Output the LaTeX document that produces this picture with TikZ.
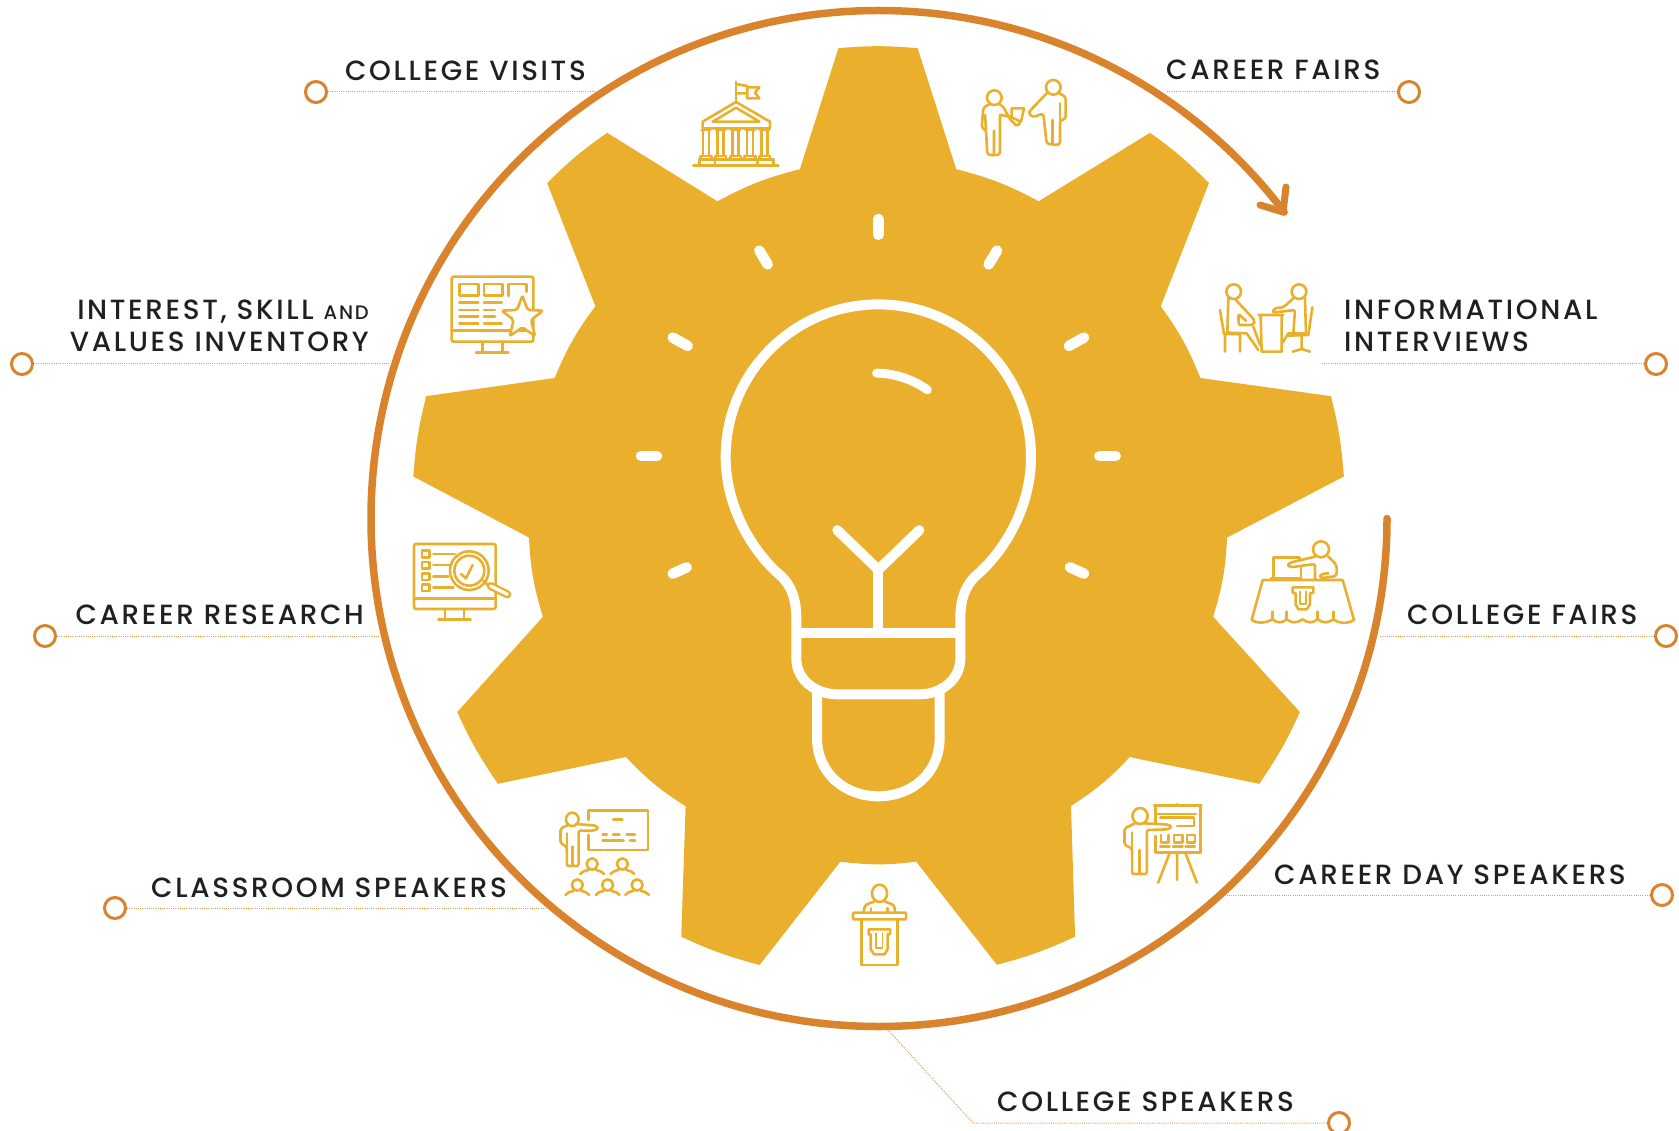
\documentclass[tikz,border=0pt]{standalone}
\usepackage{fontspec}
\setmainfont[LetterSpace=9.5]{Poppins Medium}
\definecolor{gold}{HTML}{EAB02D}
\definecolor{ora}{HTML}{DA832D}
\definecolor{ink}{HTML}{231F20}
\tikzset{
  lab/.style={font=\fontsize{27.8}{32}\selectfont,text=ink,inner sep=0pt,text depth=0pt},
  dotc/.style={circle,draw=ora,line width=3pt,fill=white,minimum size=21pt,inner sep=0pt},
  lead/.style={draw=ora!80!white,line width=1pt,dash pattern=on 1pt off 1.2pt},
  icon/.style={draw=gold,line width=2.6pt,line cap=round,line join=round},
  bulb/.style={draw=white,line width=10pt,line join=round},
  ray/.style={draw=white,line width=10.5pt,line cap=round}
}
\begin{document}
\begin{tikzpicture}[x=1pt,y=-1pt]
\useasboundingbox (0,0) rectangle (1679,1131);
\fill[white] (0,0) rectangle (1679,1131);
% gear
\begin{scope}[x=1.07079pt,y=-1.07079pt]
\fill[gold] (783,45) to[bend left=4.9] (857,45) -- (893,158) to[bend left=7] (970,188)
 -- (1074,124) to[bend left=4.9] (1129,171) -- (1084,286) to[bend left=7] (1121,353)
 -- (1243,370) to[bend left=4.9] (1255,445) -- (1146,502) to[bend left=7] (1133,576)
 -- (1214,665) to[bend left=4.9] (1176,732) -- (1055,707) to[bend left=7] (1000.2,752.7)
 -- (1004,874.8) to[bend left=4.9] (931,901) -- (855.6,804.7) to[bend left=7] (784.8,804.7)
 -- (709.4,901.2) to[bend left=4.9] (636.2,874.8) -- (640.3,753) to[bend left=7] (584.6,707)
 -- (465,732) to[bend left=4.9] (427,665) -- (507,576) to[bend left=7] (494,502)
 -- (386,445) to[bend left=4.9] (398,370) -- (518,353) to[bend left=7] (556,286)
 -- (511,171) to[bend left=4.9] (567,124) -- (670,188) to[bend left=7] (747,158) -- cycle;
\end{scope}
% arrow ring
\begin{scope}[shift={(879,518.5)},x=1pt,y=1pt]
\draw[ora,line width=7.5pt,line cap=round] (0:508pt) arc[start angle=0,end angle=-322.9,radius=508pt];
\end{scope}
\coordinate (tip) at (1283,212);
\coordinate (bA) at (1260,205);
\coordinate (bB) at (1286,187);
\draw[ora,line width=7pt,line cap=round,line join=round] (bA) -- (tip) -- (bB);
% connectors and labels
\coordinate (e1) at (595,92);
\coordinate (e2) at (1166,92);
\coordinate (e3) at (390,364);
\coordinate (e4) at (1322,364);
\coordinate (e5) at (379,636);
\coordinate (e6) at (1379,636);
\coordinate (e7) at (546,908);
\coordinate (e8) at (1226,895);
\coordinate (e9) at (888,1030);
\coordinate (e9b) at (973,1123);
\node[dotc] (c1) at (316,92) {};
\node[dotc] (c2) at (1409,92) {};
\node[dotc] (c3) at (22,364) {};
\node[dotc] (c4) at (1656,364) {};
\node[dotc] (c5) at (45,636) {};
\node[dotc] (c6) at (1666,636) {};
\node[dotc] (c7) at (115,908) {};
\node[dotc] (c8) at (1662,895) {};
\node[dotc] (c9) at (1339,1123) {};
\draw[lead] (c1) -- (e1);
\draw[lead] (c2) -- (e2);
\draw[lead] (c3) -- (e3);
\draw[lead] (c4) -- (e4);
\draw[lead] (c5) -- (e5);
\draw[lead] (c6) -- (e6);
\draw[lead] (c7) -- (e7);
\draw[lead] (c8) -- (e8);
\draw[lead] (c9) -- (e9b) -- (e9);
\node[lab,anchor=base east] (t1) at (586,81) {COLLEGE VISITS};
\node[lab,anchor=base west] (t2) at (1166,80) {CAREER FAIRS};
\node[lab,anchor=south east,align=right] (t3) at (369,352) {INTEREST, SKILL {\fontsize{19.5}{32}\selectfont AND}\\VALUES INVENTORY};
\node[lab,anchor=south west,align=left] (t4) at (1344,352) {INFORMATIONAL\\INTERVIEWS};
\node[lab,anchor=base east] (t5) at (364,624) {CAREER RESEARCH};
\node[lab,anchor=base west] (t6) at (1407,624) {COLLEGE FAIRS};
\node[lab,anchor=base west] (t7) at (151,897) {CLASSROOM SPEAKERS};
\node[lab,anchor=base west] (t8) at (1274,884) {CAREER DAY SPEAKERS};
\node[lab,anchor=base west] (t9) at (997,1111) {COLLEGE SPEAKERS};
% bulb
\begin{scope}[shift={(620,200)},x=.33333pt,y=-.39541pt]
\draw[bulb] (775,264) .. controls (522,264) and (317,437) .. (317,650)
  .. controls (317,775) and (395,885) .. (475,945)
  .. controls (515,973) and (529,1010) .. (529,1060) -- (529,1160)
  .. controls (529,1215) and (590,1250) .. (650,1250) -- (900,1250)
  .. controls (960,1250) and (1021,1215) .. (1021,1160) -- (1021,1060)
  .. controls (1021,1010) and (1035,973) .. (1075,945)
  .. controls (1155,885) and (1233,775) .. (1233,650)
  .. controls (1233,437) and (1028,264) .. (775,264) -- cycle;
\draw[bulb] (529,1094) -- (1021,1094);
\draw[bulb] (775,1094) -- (775,935);
\draw[bulb,line cap=round] (652,835) -- (775,935) -- (898,835);
\draw[bulb] (591,1245) -- (591,1360) .. controls (591,1450) and (675,1508) .. (775,1508)
  .. controls (875,1508) and (959,1450) .. (959,1360) -- (959,1245);
\draw[bulb,line width=9pt,line cap=round] (770,438) .. controls (820,438) and (875,452) .. (922,480);
\draw[ray] (775,48) -- (775,88);
\draw[ray] (418,128) -- (443,163);
\draw[ray] (1131,128) -- (1106,163);
\draw[ray] (158,348) -- (203,369);
\draw[ray] (1392,348) -- (1347,369);
\draw[ray] (63,648) -- (111,648);
\draw[ray] (1438,648) -- (1487,648);
\draw[ray] (158,945) -- (200,929);
\draw[ray] (1392,945) -- (1350,929);
\end{scope}
% college building and two people
\begin{scope}[shift={(660,60)},x=.33333pt,y=-.33333pt]
\draw[icon] (228,65) -- (228,125);
\draw[icon] (228,72) -- (262,78) -- (262,100) -- (228,100);
\draw[icon] (262,82) -- (298,82) -- (285,98) -- (298,115) -- (262,115) -- (262,100);
\draw[icon] (128,185) -- (228,126) -- (330,185) -- (330,205) -- (128,205) -- cycle;
\draw[icon] (158,185) -- (228,143) -- (298,185) -- cycle;
\foreach \c in {138,182,227,270,314} {
  \draw[icon] (\c-14,210) -- (\c+14,210);
  \draw[icon] (\c-9,212) -- (\c-9,285) (\c+9,212) -- (\c+9,285);
  \draw[icon] (\c-16,298) -- (\c-16,288) -- (\c+16,288) -- (\c+16,298);
}
\draw[icon] (118,316) -- (118,298) -- (340,298) -- (340,316);
\draw[icon] (165,300) -- (165,316) (292,300) -- (292,316);
\draw[icon] (100,316) -- (355,316);
% left person
\draw[icon] (1003,113) circle[radius=22];
\draw[icon,rounded corners=3pt] (990,132) -- (970,142) -- (965,205) -- (978,208) -- (982,285) -- (1020,285) -- (1020,165);
\draw[icon] (975,165) -- (978,208) (1002,212) -- (1002,282);
\draw[icon,rounded corners=3pt] (1018,132) -- (1030,140) -- (1050,178) -- (1072,200) -- (1083,185) -- (1050,170) -- (1022,165);
\draw[icon] (1055,170) -- (1055,145) -- (1092,145) -- (1083,185);
% right person
\draw[icon] (1180,82) circle[radius=22];
\draw[icon,rounded corners=3pt] (1160,100) -- (1112,150) -- (1105,160) -- (1118,172) -- (1150,160) -- (1160,252) -- (1200,255) -- (1200,180) -- (1217,178) -- (1217,110) -- (1197,100);
\draw[icon] (1178,180) -- (1178,250) (1200,130) -- (1200,180);
\end{scope}
% inventory and research monitors
\begin{scope}[shift={(400,260)},x=.33333pt,y=-.33333pt]
\draw[icon,rounded corners=2pt] (155,50) rectangle (400,245);
\draw[icon] (155,212) -- (400,212);
\draw[icon] (247,245) -- (247,275) (307,245) -- (307,275) (228,277) -- (325,277);
\draw[icon] (178,72) rectangle (235,107);
\draw[icon] (252,72) rectangle (308,107);
\draw[icon] (325,108) -- (325,72) -- (380,72) -- (380,95);
\draw[icon] (178,127) -- (235,127) (252,127) -- (305,127) (178,150) -- (235,150) (252,150) -- (285,150)
  (178,170) -- (235,170) (252,170) -- (285,170) (178,190) -- (235,190) (252,190) -- (305,190);
\draw[icon,fill=white,rounded corners=2pt] (367,107) -- (383,150) -- (429,152) -- (393,180) -- (405,228) -- (367,202) -- (329,228) -- (341,180) -- (305,152) -- (351,150) -- cycle;
\draw[icon,rounded corners=2pt] (42,852) rectangle (287,1047);
\draw[icon] (42,1015) -- (287,1015);
\draw[icon] (135,1047) -- (135,1075) (192,1047) -- (192,1075) (115,1078) -- (212,1078);
\draw[icon] (66,872) rectangle (88,892) (66,906) rectangle (88,926) (66,940) rectangle (88,960) (66,973) rectangle (88,993);
\draw[icon] (100,882) -- (165,882) (100,915) -- (150,915) (100,950) -- (145,950) (100,983) -- (160,983);
\draw[icon,fill=white] (208,932) circle[radius=58];
\draw[icon] (208,932) circle[radius=45];
\draw[icon] (183,942) -- (198,955) -- (218,915);
\draw[icon] (250,962) -- (264,976);
\draw[gold,line width=8pt,line cap=round] (272,978) -- (322,1003);
\draw[white,line width=3.2pt,line cap=round] (272,978) -- (322,1003);
\end{scope}
% interview and college fair
\begin{scope}[shift={(1200,270)},x=.33333pt,y=-.33333pt]
\draw[icon] (101,65) circle[radius=22];
\draw[icon] (85,85) -- (82,188) -- (140,190) -- (175,240);
\draw[icon,rounded corners=2pt] (108,90) -- (165,152) -- (160,165) -- (116,165) -- (115,132) -- (138,152);
\draw[icon] (160,170) -- (180,225);
\draw[icon] (60,120) -- (72,192) -- (120,192) (75,195) -- (75,245) (120,195) -- (120,245);
\draw[icon] (175,135) -- (250,135) (182,140) -- (185,245) -- (245,245) -- (245,140);
\draw[icon] (297,65) circle[radius=22];
\draw[icon,rounded corners=2pt] (280,85) -- (250,112) -- (222,115) -- (218,128) -- (285,120) -- (280,190);
\draw[icon] (315,85) -- (318,190) -- (265,190) -- (248,218);
\draw[icon] (337,112) -- (325,195) -- (262,197);
\draw[icon] (305,197) -- (305,237) (278,245) -- (305,237) -- (330,245);
% fair
\draw[icon] (363,838) circle[radius=24];
\draw[icon,rounded corners=2pt] (345,860) -- (270,878) -- (262,885) -- (270,892) -- (345,882) -- (345,928);
\draw[icon,rounded corners=3pt] (385,860) -- (410,885) -- (410,918) -- (360,925) -- (362,912) -- (385,910);
\draw[icon] (220,920) -- (220,862) -- (298,862) -- (298,872) (303,890) -- (303,920) (213,925) -- (303,925);
\draw[icon] (188,930) -- (428,930) (188,930) -- (155,1050) (428,930) -- (462,1050);
\draw[icon] (155,1050) .. controls (175,1062) and (195,1060) .. (217,1048)
  .. controls (232,1060) and (245,1060) .. (260,1048)
  .. controls (275,1060) and (290,1060) .. (308,1048)
  .. controls (322,1060) and (338,1060) .. (353,1048)
  .. controls (370,1060) and (382,1060) .. (400,1048)
  .. controls (420,1062) and (442,1062) .. (462,1050);
\draw[icon] (217,1048) -- (217,1025) (260,1048) -- (260,1025) (353,1048) -- (353,1025) (400,1048) -- (400,1025);
\draw[icon] (278,952) -- (340,952) -- (340,968) -- (330,970) -- (330,1003) -- (320,1018) -- (295,1018) -- (287,1003) -- (287,970) -- (278,968) -- cycle;
\draw[icon,line width=1.8pt] (300,965) -- (300,1003) -- (318,1003) -- (318,965);
\end{scope}
% classroom, podium, career day
\begin{scope}[shift={(550,790)},x=.42088pt,y=-.33333pt]
\draw[icon] (53,88) ellipse[x radius=15,y radius=20];
\draw[icon,rounded corners=2pt] (42,106) -- (25,115) -- (25,160) -- (40,170) -- (40,228) -- (68,228) -- (68,122) -- (105,122) -- (115,115) -- (110,107) -- (62,102);
\draw[icon] (40,130) -- (40,170) (53,170) -- (53,225);
\draw[icon] (92,90) -- (92,62) -- (233,62) -- (233,180) -- (92,180) -- (92,135);
\draw[icon] (150,88) -- (172,88) (125,133) -- (135,133) (150,133) -- (165,133) (182,133) -- (202,133) (125,152) -- (175,152) (190,152) -- (202,152);
\foreach \px/\py in {100/222,172/222,65/285,137/285,207/285} {
  \draw[icon] (\px,\py) ellipse[x radius=13,y radius=17];
  \draw[icon,rounded corners=2pt] (\px-28,\py+30) -- (\px-25,\py+24) -- (\px-8,\py+17);
  \draw[icon,rounded corners=2pt] (\px+28,\py+30) -- (\px+25,\py+24) -- (\px+8,\py+17);
}
% podium
\draw[icon] (783,310) ellipse[x radius=18,y radius=26];
\draw[icon,rounded corners=3pt] (770,335) -- (748,345) -- (745,368) (796,335) -- (818,345) -- (820,368);
\draw[icon] (763,355) -- (763,368) (802,355) -- (802,368);
\draw[icon,rounded corners=1pt] (720,368) rectangle (846,388);
\draw[icon] (740,390) -- (740,525) -- (826,525) -- (826,390);
\draw[icon] (757,418) -- (808,418) -- (808,433) -- (802,433) -- (802,478) -- (795,493) -- (770,493) -- (762,478) -- (762,433) -- (757,433) -- cycle;
\draw[icon,line width=1.8pt] (775,430) -- (775,475) -- (790,475) -- (790,430);
% career day
\draw[icon] (1402,78) ellipse[x radius=18,y radius=24];
\draw[icon,rounded corners=2pt] (1390,100) -- (1365,115) -- (1365,165) -- (1383,175) -- (1383,252) -- (1418,252) -- (1418,120) -- (1470,118) -- (1477,110) -- (1470,104) -- (1412,100);
\draw[icon] (1383,128) -- (1383,175) (1401,180) -- (1401,248);
\draw[icon] (1435,46) -- (1548,46) (1490,42) -- (1490,46);
\draw[icon] (1438,50) -- (1438,100) (1546,50) -- (1546,187) (1438,138) -- (1438,187) -- (1546,187);
\draw[icon] (1440,72) -- (1535,72);
\draw[icon] (1450,82) -- (1530,82) -- (1530,108) -- (1490,108);
\draw[icon] (1452,135) -- (1452,158) -- (1470,158) -- (1470,135);
\draw[icon] (1483,135) -- (1503,135) -- (1503,158) -- (1483,158) -- cycle;
\draw[icon] (1513,135) -- (1532,135) -- (1532,158) -- (1513,158) -- cycle;
\draw[icon] (1450,170) -- (1472,170) (1480,170) -- (1503,170) (1510,170) -- (1532,170);
\draw[icon] (1472,190) -- (1445,278) (1490,190) -- (1490,270) (1510,190) -- (1537,278);
\end{scope}
\end{tikzpicture}
\end{document}
